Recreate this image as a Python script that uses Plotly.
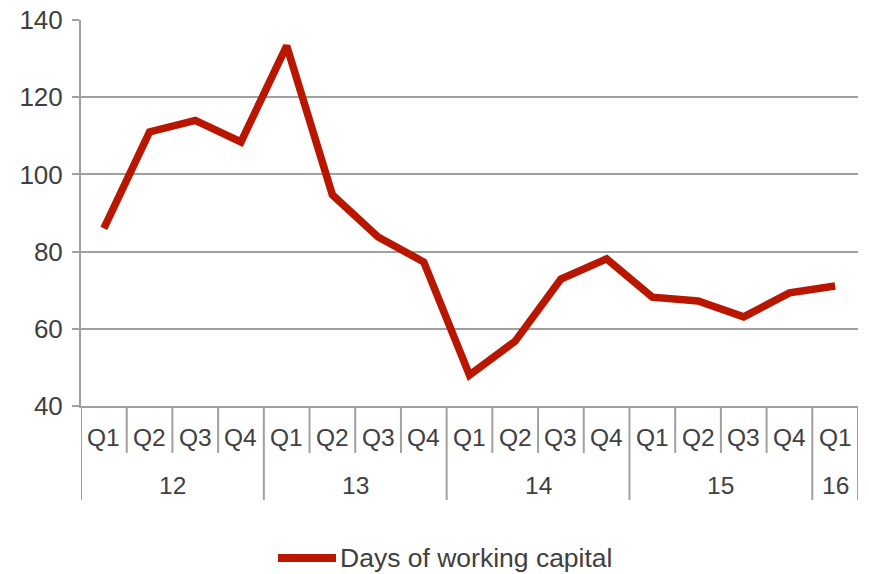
import plotly.graph_objects as go

quarters = ["Q1","Q2","Q3","Q4","Q1","Q2","Q3","Q4","Q1","Q2","Q3","Q4","Q1","Q2","Q3","Q4","Q1"]
years = ["12","13","14","15","16"]
year_sizes = [4, 4, 4, 4, 1]
days_wc = [86, 111, 114, 108.4, 133.3, 94.7, 83.8, 77.3, 48, 56.8, 72.9, 78.1, 68.2, 67.2, 63.1, 69.3, 71.1]
series_name = "Days of working capital"

FONT = "Liberation Sans, Arial, sans-serif"
TXT = "#404040"
GRID = "#A0A0A0"
LINE = "#B91600"

x = list(range(len(quarters)))

fig = go.Figure()
fig.add_trace(go.Scatter(
    x=x, y=days_wc, mode="lines", name=series_name,
    line=dict(color=LINE, width=7.5), showlegend=False,
))

PH = 386.0  # plot height px
PW = 777.0  # plot width px
def py(px_below):
    return -px_below / PH

shapes = []
annotations = []
for i, q in enumerate(quarters):
    annotations.append(dict(x=i, y=py(31), xref="x", yref="paper", text=q,
                            showarrow=False, font=dict(size=24.5, color=TXT, family=FONT),
                            yanchor="middle"))
boundaries = []
pos = 0
for s in year_sizes:
    pos += s
    boundaries.append(pos - 0.5)
for i in range(len(quarters) + 1):
    b = i - 0.5
    bottom = py(94) if (b in boundaries or i == 0) else py(47)
    shapes.append(dict(type="line", xref="x", yref="paper", x0=b, x1=b, y0=0, y1=bottom,
                       line=dict(color=GRID, width=2)))
start = 0
for yr, s in zip(years, year_sizes):
    annotations.append(dict(x=start + (s - 1) / 2, y=py(79), xref="x", yref="paper", text=yr,
                            showarrow=False, font=dict(size=24.5, color=TXT, family=FONT),
                            yanchor="middle"))
    start += s

# custom legend (line sample + label)
shapes.append(dict(type="line", xref="paper", yref="paper",
                   x0=(278 - 81) / PW, x1=(336 - 81) / PW, y0=py(152), y1=py(152),
                   line=dict(color=LINE, width=8)))
annotations.append(dict(x=(338 - 81) / PW, y=py(152), xref="paper", yref="paper",
                        text=series_name, showarrow=False, xanchor="left", yanchor="middle",
                        font=dict(size=26.5, color=TXT, family=FONT)))

fig.update_layout(
    width=869, height=574,
    margin=dict(l=81, r=11, t=20, b=168, autoexpand=False),
    paper_bgcolor="white", plot_bgcolor="white",
    font=dict(family=FONT, color=TXT, size=24),
    showlegend=False,
    shapes=shapes,
    annotations=annotations,
    xaxis=dict(range=[-0.5, len(quarters) - 0.5], showticklabels=False, showgrid=False,
               zeroline=False, showline=True, linecolor=GRID, linewidth=2, ticks="",
               automargin=False),
    yaxis=dict(range=[40, 140], dtick=20, tick0=40, showgrid=True, gridcolor=GRID, gridwidth=2,
               zeroline=False, showline=True, linecolor=GRID, linewidth=2,
               ticks="outside", ticklen=7, tickcolor=GRID, tickwidth=2,
               tickfont=dict(size=26, color=TXT, family=FONT), ticklabelstandoff=4,
               ticklabeloverflow="allow", automargin=False),
)

fig.write_html("out.html", config={"displayModeBar": False},
               post_script="document.body.style.margin='0';")
